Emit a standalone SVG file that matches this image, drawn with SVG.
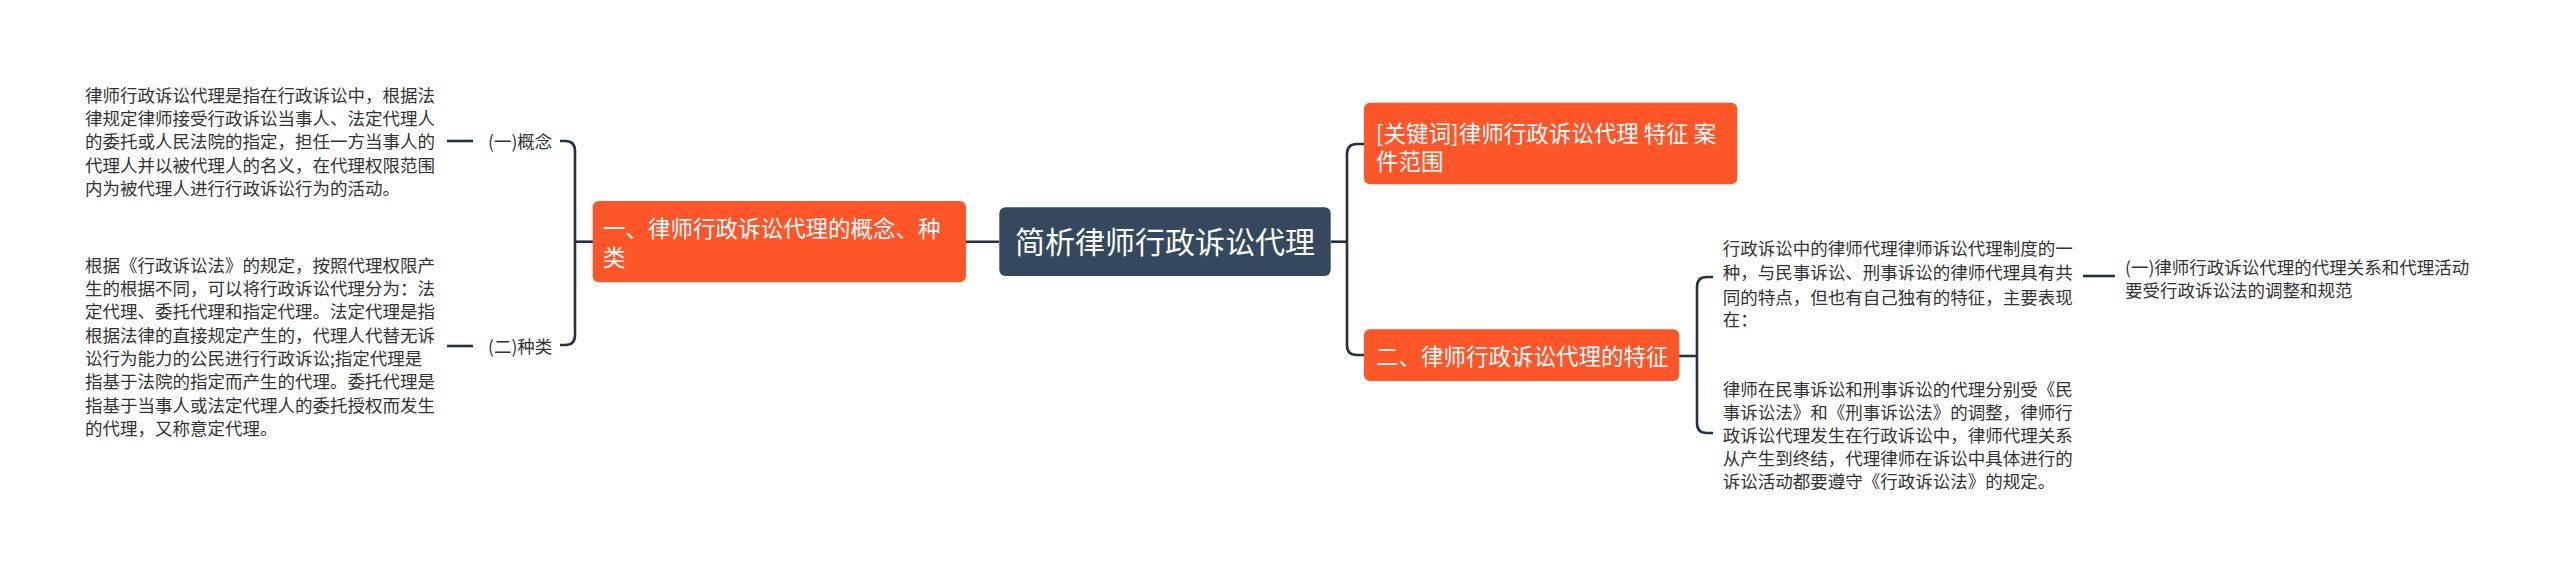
<svg xmlns="http://www.w3.org/2000/svg" width="2560" height="575" viewBox="0 0 2560 575">
<style>
text{font-family:"Noto Sans CJK SC","Microsoft YaHei",sans-serif}
.t{font-size:17.5px;fill:#333333}
.w{font-size:22.5px;fill:#ffffff}
.c{font-size:30px;fill:#ffffff}
.ln{fill:none;stroke:#233140;stroke-width:2.6}
.or{fill:#fe5529}
</style>
<rect width="2560" height="575" fill="#ffffff"/>
<g id="connectors">
<path class="ln" d="M966,241.7 H999"/>
<path class="ln" d="M1331,241.7 H1347"/>
<path class="ln" d="M1364,144 H1357 Q1347,144 1347,154 V345 Q1347,355 1357,355 H1364"/>
<path class="ln" d="M1679,356 H1697"/>
<path class="ln" d="M1713,277 H1707 Q1697,277 1697,287 V423 Q1697,433 1707,433 H1713"/>
<path class="ln" d="M2083,276 H2115"/>
<path class="ln" d="M560,141 H565 Q575,141 575,151 V335 Q575,345 565,345 H560"/>
<path class="ln" d="M575,241.7 H593"/>
<path class="ln" d="M447,141 H473"/>
<path class="ln" d="M447,346 H473"/>
</g>
<g id="center">
<rect x="999.3" y="207.3" width="331.4" height="68.7" rx="6" fill="#34495e"/>
<text class="c" x="1165" y="252.5" text-anchor="middle">简析律师行政诉讼代理</text>
</g>
<g id="node1">
<rect class="or" x="592.7" y="201" width="373.3" height="81.3" rx="6"/>
<text class="w" x="603" y="236.5">一、律师行政诉讼代理的概念、种</text>
<text class="w" x="603" y="266">类</text>
</g>
<g id="node-concept">
<text class="t" x="488" y="148">(一)概念</text>
</g>
<g id="node-concept-text">
<text class="t" x="85" y="101.5">律师行政诉讼代理是指在行政诉讼中，根据法</text>
<text class="t" x="85" y="124.8">律规定律师接受行政诉讼当事人、法定代理人</text>
<text class="t" x="85" y="148.2">的委托或人民法院的指定，担任一方当事人的</text>
<text class="t" x="85" y="171.5">代理人并以被代理人的名义，在代理权限范围</text>
<text class="t" x="85" y="194.8">内为被代理人进行行政诉讼行为的活动。</text>
</g>
<g id="node-kind">
<text class="t" x="488" y="353">(二)种类</text>
</g>
<g id="node-kind-text">
<text class="t" x="85" y="271.5">根据《行政诉讼法》的规定，按照代理权限产</text>
<text class="t" x="85" y="294.8">生的根据不同，可以将行政诉讼代理分为：法</text>
<text class="t" x="85" y="318.2">定代理、委托代理和指定代理。法定代理是指</text>
<text class="t" x="85" y="341.5">根据法律的直接规定产生的，代理人代替无诉</text>
<text class="t" x="85" y="364.8">讼行为能力的公民进行行政诉讼;指定代理是</text>
<text class="t" x="85" y="388.2">指基于法院的指定而产生的代理。委托代理是</text>
<text class="t" x="85" y="411.5">指基于当事人或法定代理人的委托授权而发生</text>
<text class="t" x="85" y="434.8">的代理，又称意定代理。</text>
</g>
<g id="node-keyword">
<rect class="or" x="1364" y="102.7" width="373.3" height="81.6" rx="6"/>
<text class="w" x="1376" y="141.5">[关键词]律师行政诉讼代理 特征 案</text>
<text class="w" x="1376" y="170">件范围</text>
</g>
<g id="node2">
<rect class="or" x="1364" y="329.3" width="315.3" height="51.7" rx="6"/>
<text class="w" x="1376" y="364.5">二、律师行政诉讼代理的特征</text>
</g>
<g id="node-feature-text1">
<text class="t" x="1722.7" y="255">行政诉讼中的律师代理律师诉讼代理制度的一</text>
<text class="t" x="1722.7" y="279.3">种，与民事诉讼、刑事诉讼的律师代理具有共</text>
<text class="t" x="1722.7" y="303.6">同的特点，但也有自己独有的特征，主要表现</text>
<text class="t" x="1722.7" y="326">在：</text>
</g>
<g id="node-feature-sub">
<text class="t" x="2125" y="274">(一)律师行政诉讼代理的代理关系和代理活动</text>
<text class="t" x="2125" y="297">要受行政诉讼法的调整和规范</text>
</g>
<g id="node-feature-text2">
<text class="t" x="1722.7" y="395.5">律师在民事诉讼和刑事诉讼的代理分别受《民</text>
<text class="t" x="1722.7" y="418.5">事诉讼法》和《刑事诉讼法》的调整，律师行</text>
<text class="t" x="1722.7" y="441.5">政诉讼代理发生在行政诉讼中，律师代理关系</text>
<text class="t" x="1722.7" y="464.5">从产生到终结，代理律师在诉讼中具体进行的</text>
<text class="t" x="1722.7" y="487.5">诉讼活动都要遵守《行政诉讼法》的规定。</text>
</g>
</svg>
